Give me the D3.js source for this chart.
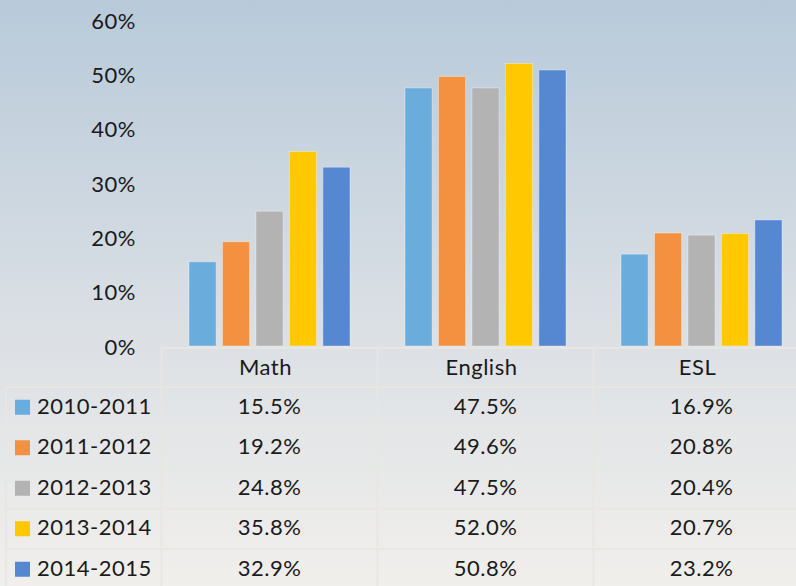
<!DOCTYPE html>
<html>
<head>
<meta charset="utf-8">
<script src="https://cdn.jsdelivr.net/npm/d3@7"></script>
<style>
  html, body { margin: 0; padding: 0; }
  body { width: 796px; height: 586px; overflow: hidden; }
  text { font-family: Lato, "Noto Sans", sans-serif; fill: #1a1a1a; letter-spacing: 0.5px; }
</style>
</head>
<body>
<div id="chart"></div>
<script>
const subjects = ['Math', 'English', 'ESL'];
const years = ['2010-2011', '2011-2012', '2012-2013', '2013-2014', '2014-2015'];
const yearColors = ['#6aaddc', '#f39141', '#b3b3b3', '#ffc800', '#5687d1'];
const math    = [15.5, 19.2, 24.8, 35.8, 32.9];
const english = [47.5, 49.6, 47.5, 52.0, 50.8];
const esl     = [16.9, 20.8, 20.4, 20.7, 23.2];
const yTicks  = [0, 10, 20, 30, 40, 50, 60];

const W = 796, H = 586;
const values = { Math: math, English: english, ESL: esl };

const svg = d3.select('#chart').append('svg')
  .attr('width', W).attr('height', H);

// background gradient
const grad = svg.append('defs').append('linearGradient')
  .attr('id', 'bg').attr('x1', 0).attr('y1', 0).attr('x2', 0).attr('y2', 1);
grad.append('stop').attr('offset', '0%').attr('stop-color', '#b8cada');
grad.append('stop').attr('offset', '60%').attr('stop-color', '#dde1e5');
grad.append('stop').attr('offset', '100%').attr('stop-color', '#f1efec');
svg.append('rect').attr('width', W).attr('height', H).attr('fill', 'url(#bg)');

const x0 = d3.scaleBand().domain(subjects).range([161.5, 809.5]);
const x1 = d3.scaleBand().domain(years).range([27.5, 188.5]).paddingInner(0.19);
const y = d3.scaleLinear().domain([0, 60]).range([346, 20]);

// y axis labels
svg.append('g').selectAll('text')
  .data(yTicks).join('text')
    .attr('x', 136).attr('y', d => y(d) + 3)
    .attr('text-anchor', 'end')
    .attr('dominant-baseline', 'middle')
    .style('font-size', '22px')
    .text(d => d + '%');

// bars
const groups = svg.append('g').selectAll('g')
  .data(subjects).join('g')
    .attr('transform', d => `translate(${x0(d)},0)`);

groups.selectAll('rect')
  .data(s => values[s].map((v, i) => ({ year: years[i], v, i })))
  .join('rect')
    .attr('x', d => x1(d.year))
    .attr('width', x1.bandwidth())
    .attr('y', d => y(d.v))
    .attr('height', d => y(0) - y(d.v))
    .attr('fill', d => yearColors[d.i])
    .attr('stroke', 'rgba(255,255,255,0.35)')
    .attr('stroke-width', 1);

// data table
const rowTop = 348, headerH = 39, rowH = 40.5;
const rowY = d3.scaleBand().domain(years).range([rowTop + headerH, rowTop + headerH + rowH * years.length]);
const grid = svg.append('g')
  .attr('stroke', '#e9e7e3').attr('stroke-width', 2).attr('opacity', 0.9);

// horizontal lines
const hLines = [rowTop].concat(years.map(yr => rowY(yr)));
hLines.forEach((yy, i) => {
  grid.append('line')
    .attr('x1', i === 0 ? x0('Math') : 6).attr('x2', W)
    .attr('y1', yy).attr('y2', yy);
});
// vertical lines
subjects.forEach(s => {
  grid.append('line')
    .attr('x1', x0(s)).attr('x2', x0(s))
    .attr('y1', rowTop).attr('y2', H);
});
grid.append('line').attr('x1', 6).attr('x2', 6)
  .attr('y1', rowY(years[0])).attr('y2', H);

// header labels
svg.append('g').selectAll('text')
  .data(subjects).join('text')
    .attr('x', d => x0(d) + x0.bandwidth() / 2 - 4)
    .attr('y', rowTop + headerH / 2 + 2)
    .attr('text-anchor', 'middle')
    .attr('dominant-baseline', 'middle')
    .style('font-size', '22px')
    .text(d => d);

// row labels with legend keys
const rows = svg.append('g').selectAll('g')
  .data(years).join('g')
    .attr('transform', d => `translate(0,${rowY(d) + rowY.bandwidth() / 2})`);

rows.append('rect')
  .attr('x', 15).attr('y', -7.5).attr('width', 15).attr('height', 15)
  .attr('fill', (d, i) => yearColors[i]);

rows.append('text')
  .attr('x', 37).attr('y', 1)
  .attr('dominant-baseline', 'middle')
  .style('font-size', '22px')
  .text(d => d);

rows.each(function(yr, i) {
  d3.select(this).selectAll('text.val')
    .data(subjects).join('text')
      .attr('class', 'val')
      .attr('x', s => x0(s) + x0.bandwidth() / 2)
      .attr('y', 1)
      .attr('text-anchor', 'middle')
      .attr('dominant-baseline', 'middle')
      .style('font-size', '22px')
      .text(s => values[s][i].toFixed(1) + '%');
});
</script>
</body>
</html>
